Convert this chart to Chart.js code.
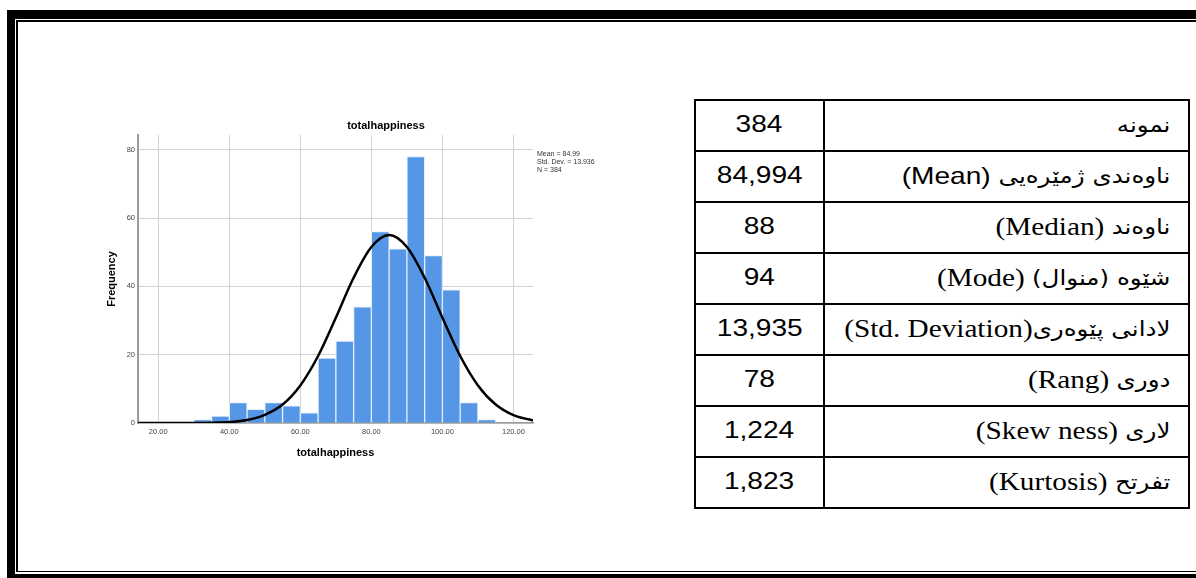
<!DOCTYPE html>
<html>
<head>
<meta charset="utf-8">
<script src="https://cdn.jsdelivr.net/npm/chart.js@4.4.1/dist/chart.umd.min.js"></script>
<style>
  body { margin: 0; background: #fff; width: 1196px; height: 578px; overflow: hidden; position: relative; }
  .frame-outer { position: absolute; left: 7px; top: 10px; width: 1240px; height: 569px; box-sizing: border-box;
                 border-left: 8px solid #000; border-top: 9px solid #000; border-bottom: 5px solid #000; }
  .frame-inner { position: absolute; left: 16px; top: 20px; width: 1240px; height: 552px; box-sizing: border-box;
                 border-left: 2px solid #000; border-top: 2px solid #000; border-bottom: 1px solid #000; }
  #chartBox { position: absolute; left: 100px; top: 110px; width: 500px; height: 360px; }
  table.stats { position: absolute; left: 694px; top: 99px; width: 496px; border-collapse: collapse; }
  table.stats td { border: 2px solid #000; height: 49px; padding: 0; }
  td.num { width: 127px; text-align: center; }
  td.num span { display: inline-block; font-family: "Liberation Sans", Arial, sans-serif; font-size: 24px;
                transform: scaleX(1.17); position: relative; top: -2px; }
  td.lbl .wrap { display: flex; justify-content: flex-end; align-items: center; padding-right: 15px; direction: ltr;
                 transform: scaleX(1.17); transform-origin: right center; position: relative; top: -1px; }
  .ku { font-family: "DejaVu Sans", sans-serif; font-size: 21px; }
  .lat { font-family: "Liberation Serif", serif; font-size: 25px; }
  .latsans { font-family: "Liberation Sans", Arial, sans-serif; font-size: 24px; }
</style>
</head>
<body>
<div class="frame-outer"></div>
<div class="frame-inner"></div>

<div id="chartBox"><canvas id="histograma"></canvas></div>

<table class="stats" id="tablaStats"></table>

<script>
const binCenters = [32.5, 37.5, 42.5, 47.5, 52.5, 57.5, 62.5, 67.5, 72.5, 77.5, 82.5, 87.5, 92.5, 97.5, 102.5, 107.5, 112.5];
const frequencies = [1, 2, 6, 4, 6, 5, 3, 19, 24, 34, 56, 51, 78, 49, 39, 6, 1];

// curva normal
const curveX = [10, 15, 20, 25, 30, 35, 40, 45, 50, 55, 60, 65, 70, 75, 80, 85, 90, 95, 100, 105, 110, 115, 120, 125, 130];
const curveY = [0, 0, 0, 0, 0, 0.1, 0.3, 0.9, 2.4, 5.4, 11, 19.6, 30.8, 42.5, 51.5, 55, 51.5, 42.5, 30.8, 19.6, 11, 5.4, 2.3, 0.9, 0.3];

const xTicks = [20, 40, 60, 80, 100, 120];
const yTicks = [0, 20, 40, 60, 80];

const chartTitle = 'totalhappiness';
const statsLines = ['Mean = 84.99', 'Std. Dev. = 13.936', 'N = 384'];

// tabla de la derecha
const tableValues = ['384', '84,994', '88', '94', '13,935', '78', '1,224', '1,823'];
// cada etiqueta en orden visual (izquierda -> derecha): [clase, texto, dir]
const tableLabels = [
    [['ku', 'نمونه', 'rtl']],
    [['latsans', '(Mean)\u00a0', 'ltr'], ['ku', 'ناوەندی ژمێرەیی', 'rtl']],
    [['lat', '(Median)\u00a0', 'ltr'], ['ku', 'ناوەند', 'rtl']],
    [['lat', '(Mode)\u00a0', 'ltr'], ['ku', 'شێوە (منوال)', 'rtl']],
    [['lat', '(Std. Deviation)', 'ltr'], ['ku', 'لادانی پێوەری', 'rtl']],
    [['lat', '(Rang)\u00a0', 'ltr'], ['ku', 'دوری', 'rtl']],
    [['lat', '(Skew ness)\u00a0', 'ltr'], ['ku', 'لاری', 'rtl']],
    [['lat', '(Kurtosis)\u00a0', 'ltr'], ['ku', 'تفرتح', 'rtl']]
];

document.addEventListener("DOMContentLoaded", function() {
    // armamos la tabla
    const tabla = document.getElementById('tablaStats');
    tableValues.forEach(function(valor, i) {
        const tr = document.createElement('tr');
        const tdNum = document.createElement('td');
        tdNum.className = 'num';
        const sNum = document.createElement('span');
        sNum.textContent = valor;
        tdNum.appendChild(sNum);
        const tdLbl = document.createElement('td');
        tdLbl.className = 'lbl';
        const wrap = document.createElement('div');
        wrap.className = 'wrap';
        tableLabels[i].forEach(function(parte) {
            const s = document.createElement('span');
            s.className = parte[0];
            s.textContent = parte[1];
            s.dir = parte[2];
            wrap.appendChild(s);
        });
        tdLbl.appendChild(wrap);
        tr.appendChild(tdNum);
        tr.appendChild(tdLbl);
        tabla.appendChild(tr);
    });

    const ctx = document.getElementById('histograma');
    if (!ctx) return;

    // titulo y cuadro de estadisticos (como en SPSS)
    const textosExtra = {
        id: 'textosExtra',
        afterDraw(chart) {
            const c = chart.ctx;
            const area = chart.chartArea;
            c.save();
            c.fillStyle = '#000';
            c.font = 'bold 11px "Liberation Sans", Arial, sans-serif';
            c.textAlign = 'center';
            c.textBaseline = 'middle';
            c.fillText(chartTitle, area.right - 147, area.top - 9);
            c.fillStyle = '#333';
            c.font = '7px "Liberation Sans", Arial, sans-serif';
            c.textAlign = 'left';
            statsLines.forEach(function(t, i) {
                c.fillText(t, area.right + 4, area.top + 19 + i * 8);
            });
            c.restore();
        }
    };

    const fuenteTick = { family: '"Liberation Sans", Arial, sans-serif', size: 7.5 };
    const fuenteTitulo = { family: '"Liberation Sans", Arial, sans-serif', size: 11, weight: 'bold' };

    new Chart(ctx, {
        type: 'bar',
        data: {
            datasets: [{
                type: 'line',
                data: curveX.map((x, i) => ({ x: x, y: curveY[i] })),
                borderColor: '#000',
                borderWidth: 2.5,
                pointRadius: 0,
                cubicInterpolationMode: 'monotone',
                fill: false,
                order: 0
            }, {
                type: 'bar',
                data: binCenters.map((x, i) => ({ x: x, y: frequencies[i] })),
                backgroundColor: '#5596e6',
                borderColor: '#e4eefb',
                borderWidth: 1,
                barPercentage: 1,
                categoryPercentage: 1,
                order: 1
            }]
        },
        options: {
            responsive: true,
            maintainAspectRatio: false,
            animation: false,
            layout: { padding: { top: 25, right: 67, left: 0, bottom: 0 } },
            plugins: { legend: { display: false }, tooltip: { enabled: false } },
            scales: {
                x: {
                    type: 'linear',
                    min: 14.3,
                    max: 125.5,
                    offset: false,
                    afterBuildTicks: function(scale) { scale.ticks = xTicks.map(v => ({ value: v })); },
                    afterFit: function(scale) { scale.height = 47; },
                    grid: { color: '#d3d3d3', drawTicks: false, offset: false },
                    border: { color: '#9a9a9a', width: 1.5 },
                    ticks: { font: fuenteTick, color: '#444', padding: 4, maxRotation: 0,
                             callback: v => Number(v).toFixed(2) },
                    title: { display: true, text: 'totalhappiness', font: fuenteTitulo, color: '#000',
                             padding: { top: 4, bottom: 10 } }
                },
                y: {
                    min: 0,
                    max: 84.3,
                    afterBuildTicks: function(scale) { scale.ticks = yTicks.map(v => ({ value: v })); },
                    afterFit: function(scale) { scale.width = 38; },
                    grid: { color: '#d3d3d3', drawTicks: false },
                    border: { color: '#9a9a9a', width: 2 },
                    ticks: { font: fuenteTick, color: '#444', padding: 3 },
                    title: { display: true, text: 'Frequency', font: fuenteTitulo, color: '#000',
                             padding: { top: 5, bottom: 4 } }
                }
            }
        },
        plugins: [textosExtra]
    });
});
</script>
</body>
</html>
